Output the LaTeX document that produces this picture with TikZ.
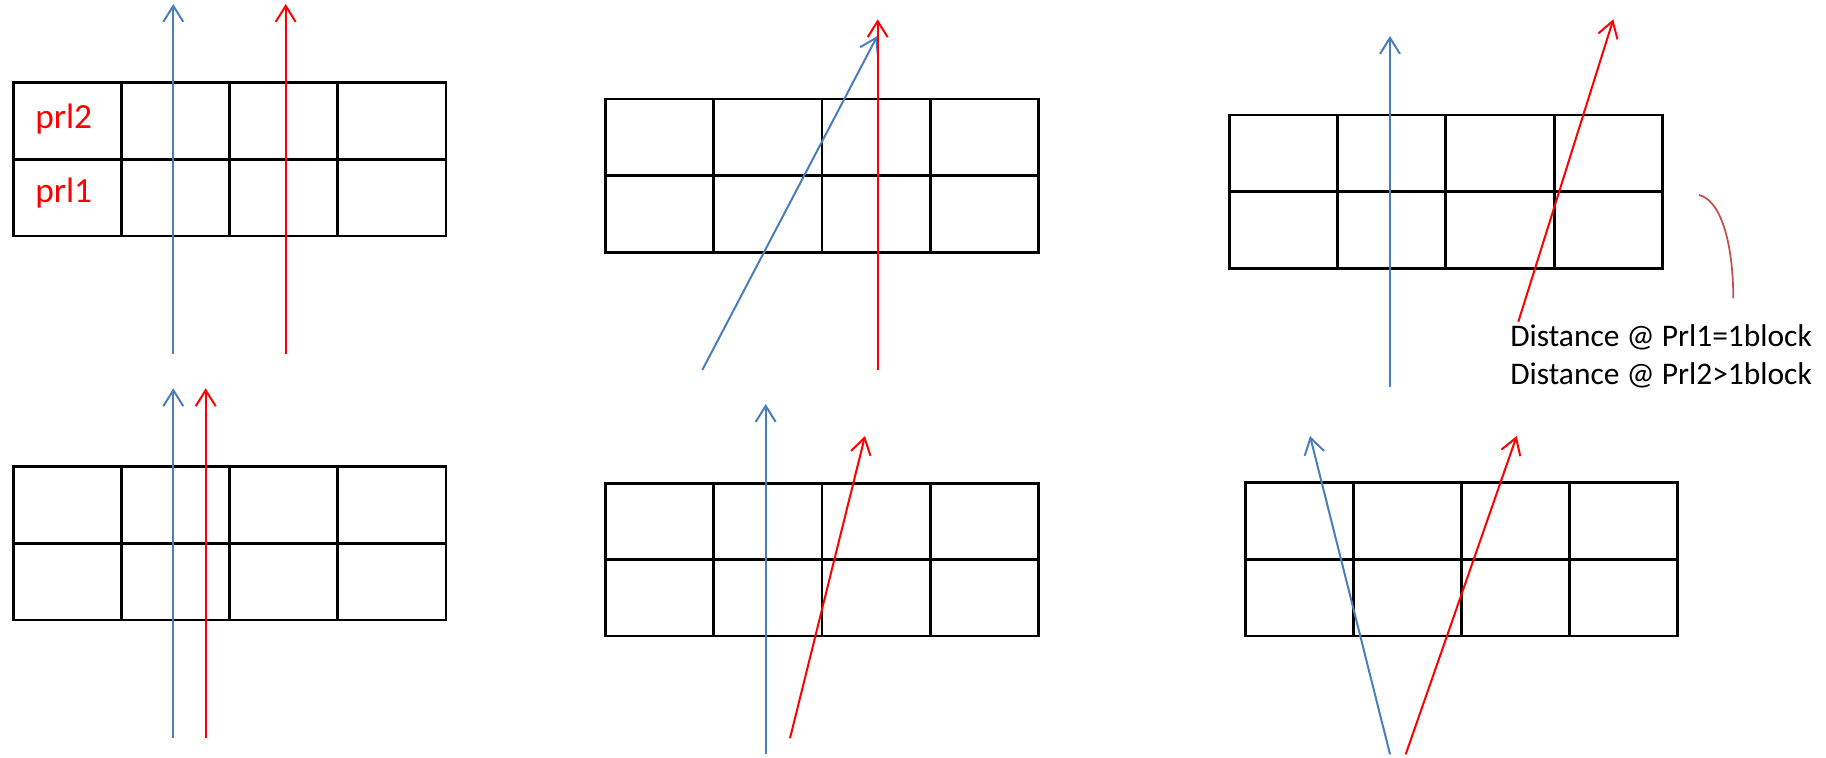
\documentclass[tikz,border=0pt]{standalone}
\usepackage{fontspec}
\setmainfont{Carlito}
\usetikzlibrary{arrows.meta}
\definecolor{oblue}{HTML}{4A7EBB}
\definecolor{ored}{HTML}{FF0000}
\definecolor{obrown}{HTML}{C0504D}
\tikzset{
  gridline/.style={draw=black, line width=2.2pt, line join=miter},
  ray/.style={line width=1.5pt, -{Straight Barb[length=12pt,width=15pt,line width=1.5pt]}},
  bray/.style={ray, draw=oblue},
  rray/.style={ray, draw=ored},
  prllabel/.style={text=ored, font=\fontsize{26.5}{30}\selectfont, anchor=base west, inner sep=0pt},
  note/.style={text=black, font=\fontsize{23.6}{28}\selectfont, anchor=base west, inner sep=0pt},
}
\newcommand\mygrid[4]{%
  \draw[gridline] (#1,#2) rectangle (#3,#4);
  \foreach \k in {1,2,3} {\draw[gridline] ({#1+\k*(#3-#1)/4},#2) -- ({#1+\k*(#3-#1)/4},#4);}
  \draw[gridline] (#1,{(#2+#4)/2}) -- (#3,{(#2+#4)/2});
}
\begin{document}
\begin{tikzpicture}[x=0.75pt,y=-0.75pt]
\useasboundingbox (0,0) rectangle (1826,757);
% grids
\mygrid{13.3}{82.3}{446}{236}
\mygrid{605.7}{99}{1038.3}{252.3}
\mygrid{1229.3}{115}{1662.3}{268.3}
\mygrid{13.3}{466.7}{446}{620}
\mygrid{605.7}{483.3}{1038.3}{636}
\mygrid{1245.7}{482.3}{1677.7}{636}
% labels
\node[prllabel] (prl2) at (35,128.3) {prl2};
\node[prllabel] (prl1) at (35,202.7) {prl1};
\node[note] (lbl1) at (1510,346.7) {Distance @ Prl1=1block};
\node[note] (lbl2) at (1510,384) {Distance @ Prl2>1block};
% ray end points
\coordinate (b1s) at (173.3,354); \coordinate (b1e) at (173.3,4);
\coordinate (r1s) at (285.7,354); \coordinate (r1e) at (285.7,4);
\coordinate (b2s) at (702.3,370); \coordinate (b2e) at (877.3,36);
\coordinate (r2s) at (877.7,370); \coordinate (r2e) at (877.7,19.3);
\coordinate (b3s) at (1390,386.7); \coordinate (b3e) at (1390,36);
\coordinate (r3s) at (1518.3,321.7); \coordinate (r3e) at (1613.3,19.3);
\coordinate (b4s) at (173.3,738.3); \coordinate (b4e) at (173.3,388.3);
\coordinate (r4s) at (205.7,738.3); \coordinate (r4e) at (205.7,388.3);
\coordinate (b5s) at (765.7,754); \coordinate (b5e) at (765.7,404);
\coordinate (r5s) at (790,738.3); \coordinate (r5e) at (865,436);
\coordinate (b6s) at (1390,754.3); \coordinate (b6e) at (1310,436);
\coordinate (r6s) at (1405.7,754.3); \coordinate (r6e) at (1516.7,436);
\coordinate (cs) at (1699,195); \coordinate (ce) at (1733.3,298.3);
% rays
\draw[bray] (b1s) -- (b1e);
\draw[rray] (r1s) -- (r1e);
\draw[bray] (b2s) -- (b2e);
\draw[rray] (r2s) -- (r2e);
\draw[bray] (b3s) -- (b3e);
\draw[rray] (r3s) -- (r3e);
\draw[bray] (b4s) -- (b4e);
\draw[rray] (r4s) -- (r4e);
\draw[bray] (b5s) -- (b5e);
\draw[rray] (r5s) -- (r5e);
\draw[bray] (b6s) -- (b6e);
\draw[rray] (r6s) -- (r6e);
% curve
\draw[obrown, line width=1.3pt] (cs) .. controls (1720,200) and (1733,240) .. (ce);
\end{tikzpicture}
\end{document}
